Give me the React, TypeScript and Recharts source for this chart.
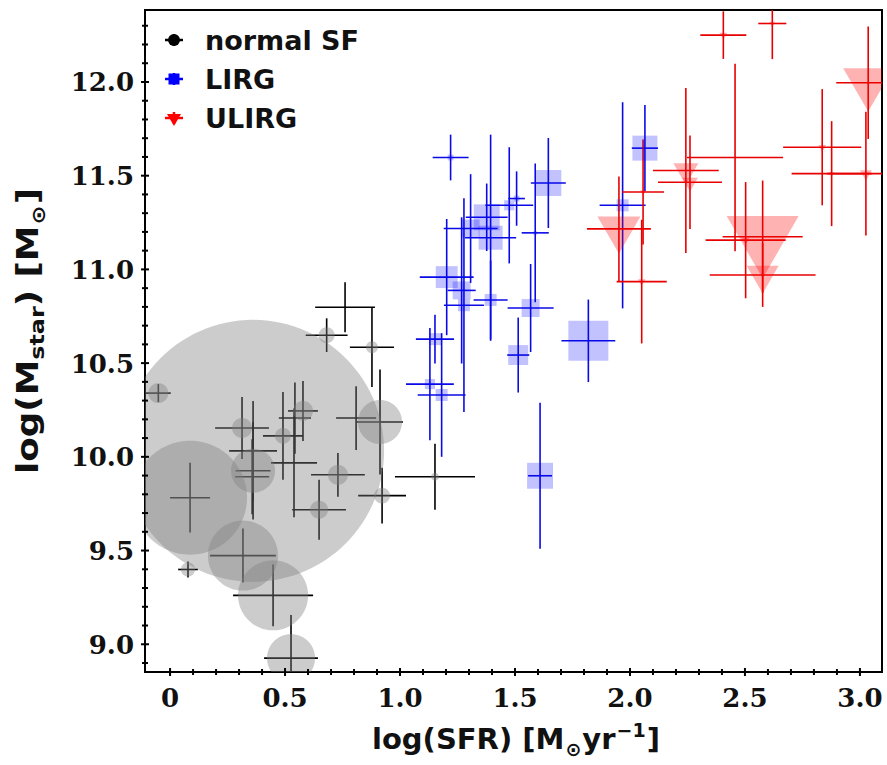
import React from 'react';
import { ScatterChart, Scatter, XAxis, YAxis, ZAxis, ErrorBar, ReferenceArea } from 'recharts';

// normal star-forming galaxies: log SFR, log Mstar, errors, and gas marker size
const sfSFR = [-0.051, 0.681, 0.761, 0.878, 0.913, 0.809, 0.578, 0.543, 0.491, 0.313, 0.361, 0.361, 0.357, 0.087, 0.078, 0.317, 0.448, 0.526, 0.648, 0.73, 0.922, 1.152, 0.539];
const sfMass = [10.34, 10.649, 10.798, 10.585, 10.186, 10.207, 10.245, 10.207, 10.112, 10.154, 10.032, 9.926, 9.894, 9.782, 9.399, 9.473, 9.261, 8.926, 9.718, 9.904, 9.793, 9.894, 9.968];
const sfSFRErr = [0.054, 0.091, 0.13, 0.096, 0.1, 0.087, 0.065, 0.07, 0.087, 0.117, 0.104, 0.076, 0.074, 0.087, 0.043, 0.143, 0.174, 0.117, 0.117, 0.117, 0.104, 0.174, 0.1];
const sfMassErr = [0.048, 0.09, 0.133, 0.213, 0.28, 0.17, 0.16, 0.19, 0.234, 0.165, 0.266, 0.26, 0.2, 0.186, 0.043, 0.144, 0.165, 0.23, 0.16, 0.117, 0.149, 0.176, 0.29];
const sfGas = [0.58, 0.37, 0, 0.21, 2.82, 0, 0.58, 0, 0.37, 0.58, 100, 2.82, 0, 18.9, 0.29, 7.14, 7.14, 3.36, 0.47, 0.58, 0.37, 0.09, 0];

// LIRGs
const lirgSFR = [1.22, 1.645, 1.377, 1.394, 1.307, 1.475, 1.507, 1.588, 1.203, 1.268, 1.278, 1.394, 1.568, 1.819, 1.514, 1.152, 1.13, 1.181, 1.609, 2.065, 1.968];
const lirgMass = [11.597, 11.461, 11.278, 11.169, 11.218, 11.342, 11.378, 11.195, 10.959, 10.888, 10.809, 10.837, 10.794, 10.619, 10.543, 10.628, 10.388, 10.33, 9.899, 11.647, 11.342];
const lirgSFRErr = [0.078, 0.076, 0.091, 0.111, 0.117, 0.104, 0.036, 0.059, 0.117, 0.061, 0.087, 0.074, 0.1, 0.117, 0.048, 0.083, 0.104, 0.104, 0.052, 0.057, 0.1];
const lirgMassErr = [0.122, 0.24, 0.18, 0.55, 0.29, 0.31, 0.145, 0.37, 0.31, 0.39, 0.57, 0.21, 0.235, 0.22, 0.2, 0.13, 0.3, 0.33, 0.39, 0.23, 0.55];
const lirgGas = [0.05, 0.98, 0.98, 0.84, 0.47, 0.15, 0.05, 0.02, 0.7, 0.47, 0.21, 0.21, 0.47, 2.33, 0.58, 0.21, 0.15, 0.21, 0.98, 0.91, 0.21];

// ULIRGs
const ulirgSFR = [2.406, 2.619, 3.036, 2.836, 2.877, 3.026, 2.243, 2.261, 2.457, 2.503, 2.577, 2.577, 1.952, 2.057, 2.051];
const ulirgMass = [12.25, 12.312, 11.996, 11.652, 11.511, 11.511, 11.528, 11.465, 11.597, 11.156, 11.174, 10.97, 11.216, 11.413, 10.935];
const ulirgSFRErr = [0.1, 0.061, 0.139, 0.17, 0.174, 0.17, 0.143, 0.139, 0.209, 0.174, 0.174, 0.23, 0.139, 0.091, 0.109];
const ulirgMassErr = [0.127, 0.19, 0.3, 0.31, 0.28, 0.33, 0.44, 0.25, 0.5, 0.31, 0.3, 0.17, 0.28, 0.28, 0.33];
const ulirgGas = [0.09, 0.05, 3.64, 0.09, 0.05, 0.21, 0.91, 0.37, 0, 0.1, 7.55, 1.49, 2.69, 0.05, 0.09];

const xMajorTicks = [0, 0.5, 1, 1.5, 2, 2.5, 3];
const xTickLabels = ['0', '0.5', '1.0', '1.5', '2.0', '2.5', '3.0'];
const yMajorTicks = [9, 9.5, 10, 10.5, 11, 11.5, 12];
const yTickLabels = ['9.0', '9.5', '10.0', '10.5', '11.0', '11.5', '12.0'];

const W = 887;
const H = 765;
const PLOT_LEFT = 145;
const PLOT_TOP = 10;
const PLOT_RIGHT = 882;
const PLOT_BOTTOM = 672;
const X_DOMAIN: [number, number] = [-0.109, 3.096];
const Y_DOMAIN: [number, number] = [8.852, 12.384];

// minor ticks every 0.1
const tenths = (from: number, to: number) => {
  const out: number[] = [];
  for (let i = Math.round(from * 10); i <= Math.round(to * 10); i++) out.push(i / 10);
  return out;
};
const xTicks = tenths(0, 3.0);
const yTicks = tenths(8.9, 12.3);

// error bars are cut at the frame, like the original plot does
const cutErr = (v: number, e: number, [lo, hi]: [number, number]) => [
  Math.max(0, Math.min(e, v - lo)),
  Math.max(0, Math.min(e, hi - v)),
];

const rows = (xs: number[], ys: number[], exs: number[], eys: number[], zs: number[]) =>
  xs.map((x, i) => ({
    x,
    y: ys[i],
    ex: cutErr(x, exs[i], X_DOMAIN),
    ey: cutErr(ys[i], eys[i], Y_DOMAIN),
    z: zs[i],
  }));

const sfRows = rows(sfSFR, sfMass, sfSFRErr, sfMassErr, sfGas);
const lirgRows = rows(lirgSFR, lirgMass, lirgSFRErr, lirgMassErr, lirgGas);
const ulirgRows = rows(ulirgSFR, ulirgMass, ulirgSFRErr, ulirgMassErr, ulirgGas);

const tickFont = { fontFamily: '"DejaVu Serif", "Liberation Serif", serif', fontWeight: 700, fontSize: 26, fill: '#111' };
const titleFont = { fontFamily: '"DejaVu Sans", sans-serif', fontWeight: 700, fill: '#111' };

const labelFor = (v: number, majors: number[], labels: string[]) => {
  const i = majors.findIndex((m) => Math.abs(m - v) < 1e-6);
  return i >= 0 ? labels[i] : null;
};

const XTick = (props: any) => {
  const { x, payload } = props;
  const label = labelFor(payload.value, xMajorTicks, xTickLabels);
  const len = label ? 4 : 3;
  return (
    <g>
      <line x1={x} x2={x} y1={PLOT_BOTTOM - len} y2={PLOT_BOTTOM + len} stroke="#000" strokeWidth={2} />
      {label && (
        <text x={x} y={707} textAnchor="middle" style={tickFont}>
          {label}
        </text>
      )}
    </g>
  );
};

const YTick = (props: any) => {
  const { y, payload } = props;
  const label = labelFor(payload.value, yMajorTicks, yTickLabels);
  const len = label ? 4 : 3;
  return (
    <g>
      <line x1={PLOT_LEFT - len} x2={PLOT_LEFT + len} y1={y} y2={y} stroke="#000" strokeWidth={2} />
      {label && (
        <text x={134} y={y + 9.5} textAnchor="end" style={tickFont}>
          {label}
        </text>
      )}
    </g>
  );
};

// polygon clipping against the plot frame (Sutherland-Hodgman)
type Pt = [number, number];
const cross = (a: Pt, b: Pt, k: number, v: number): Pt => {
  const t = (v - a[k]) / (b[k] - a[k]);
  return [a[0] + t * (b[0] - a[0]), a[1] + t * (b[1] - a[1])];
};
const clipToPlot = (pts: Pt[]): Pt[] => {
  const planes: [number, number, number][] = [
    [0, PLOT_LEFT, 1],
    [0, PLOT_RIGHT, -1],
    [1, PLOT_TOP, 1],
    [1, PLOT_BOTTOM, -1],
  ];
  let out = pts;
  for (const [k, b, s] of planes) {
    const input = out;
    out = [];
    for (let i = 0; i < input.length; i++) {
      const cur = input[i];
      const prev = input[(i + input.length - 1) % input.length];
      const inC = s * (cur[k] - b) >= 0;
      const inP = s * (prev[k] - b) >= 0;
      if (inC) {
        if (!inP) out.push(cross(prev, cur, k, b));
        out.push(cur);
      } else if (inP) {
        out.push(cross(prev, cur, k, b));
      }
    }
    if (!out.length) break;
  }
  return out;
};
const toPath = (pts: Pt[]) =>
  pts.length ? 'M' + pts.map((p) => `${p[0].toFixed(2)},${p[1].toFixed(2)}`).join('L') + 'Z' : '';

const radiusOf = (p: any) => Math.sqrt(Math.max(p.size ?? 0, 0) / Math.PI);

const GasCircle = (p: any) => {
  const r = radiusOf(p);
  if (!r) return <g />;
  const pts: Pt[] = Array.from({ length: 120 }, (_, i) => {
    const a = (i / 120) * Math.PI * 2;
    return [p.cx + r * Math.cos(a), p.cy + r * Math.sin(a)];
  });
  return <path d={toPath(clipToPlot(pts))} fill="#808080" fillOpacity={0.4} />;
};

const GasSquare = (p: any) => {
  const r = radiusOf(p);
  if (!r) return <g />;
  const pts: Pt[] = [
    [p.cx - r, p.cy - r],
    [p.cx + r, p.cy - r],
    [p.cx + r, p.cy + r],
    [p.cx - r, p.cy + r],
  ];
  return <path d={toPath(clipToPlot(pts))} fill="#0000ff" fillOpacity={0.24} />;
};

const GasTriangle = (p: any) => {
  const r = radiusOf(p);
  if (!r) return <g />;
  const h = r * Math.sqrt(3);
  const pts: Pt[] = [
    [p.cx - r, p.cy - h / 3],
    [p.cx + r, p.cy - h / 3],
    [p.cx, p.cy + (2 * h) / 3],
  ];
  return <path d={toPath(clipToPlot(pts))} fill="#ff0000" fillOpacity={0.3} />;
};

const legendItems = [
  { label: 'normal SF', color: '#000000', kind: 'circle' },
  { label: 'LIRG', color: '#0000ff', kind: 'square' },
  { label: 'ULIRG', color: '#ff0000', kind: 'triangle' },
];

const LegendMarker = ({ kind, color, x, y }: any) => (
  <g>
    <line x1={x - 9} x2={x + 9} y1={y} y2={y} stroke={color} strokeWidth={2.5} />
    <line x1={x} x2={x} y1={y - 6} y2={y + 6} stroke={color} strokeWidth={2.5} />
    {kind === 'circle' && <circle cx={x} cy={y} r={6} fill={color} />}
    {kind === 'square' && <rect x={x - 5.5} y={y - 5.5} width={11} height={11} fill={color} />}
    {kind === 'triangle' && <path d={`M${x - 7},${y - 4}L${x + 7},${y - 4}L${x},${y + 8}Z`} fill={color} />}
  </g>
);

const bars = (color: string) => [
  <ErrorBar key="ex" dataKey="ex" direction="x" width={0} stroke={color} strokeWidth={1.6} />,
  <ErrorBar key="ey" dataKey="ey" direction="y" width={0} stroke={color} strokeWidth={1.6} />,
];

export default function App() {
  return (
    <div style={{ position: 'absolute', left: 0, top: 0, width: W, height: H, background: '#fff' }}>
      <ScatterChart width={W} height={H} margin={{ top: 10, right: 5, bottom: 0, left: 0 }}>
        <XAxis
          type="number"
          dataKey="x"
          domain={X_DOMAIN}
          allowDataOverflow
          ticks={xTicks}
          interval={0}
          tick={<XTick />}
          tickLine={false}
          axisLine={false}
          height={93}
        />
        <YAxis
          type="number"
          dataKey="y"
          domain={Y_DOMAIN}
          allowDataOverflow
          ticks={yTicks}
          interval={0}
          tick={<YTick />}
          tickLine={false}
          axisLine={false}
          width={145}
        />
        <ZAxis type="number" dataKey="z" domain={[0, 100]} range={[0, Math.PI * 131 * 131]} />
        <ReferenceArea
          x1={X_DOMAIN[0]}
          x2={X_DOMAIN[1]}
          y1={Y_DOMAIN[0]}
          y2={Y_DOMAIN[1]}
          fill="none"
          stroke="#000"
          strokeWidth={2}
          ifOverflow="visible"
        />
        <Scatter name="normal SF" data={sfRows} shape={GasCircle} isAnimationActive={false}>
          {bars('#000000')}
        </Scatter>
        <Scatter name="LIRG" data={lirgRows} shape={GasSquare} isAnimationActive={false}>
          {bars('#0a0ae6')}
        </Scatter>
        <Scatter name="ULIRG" data={ulirgRows} shape={GasTriangle} isAnimationActive={false}>
          {bars('#e80000')}
        </Scatter>
      </ScatterChart>
      <svg width={W} height={H} style={{ position: 'absolute', left: 0, top: 0, pointerEvents: 'none' }}>
        {legendItems.map((item, i) => (
          <g key={item.label}>
            <LegendMarker kind={item.kind} color={item.color} x={174} y={40 + i * 39} />
            <text
              x={205}
              y={50 + i * 39}
              style={{ fontFamily: '"DejaVu Sans", sans-serif', fontWeight: 700, fontSize: 27, fill: '#111' }}
            >
              {item.label}
            </text>
          </g>
        ))}
        <text x={372} y={749} style={{ ...titleFont, fontSize: 29 }}>
          log(SFR) [M
          <tspan fontSize={19} dx={1} dy={7}>⊙</tspan>
          <tspan dx={1} dy={-7}>yr</tspan>
          <tspan fontSize={19} dx={1} dy={-12}>−1</tspan>
          <tspan dx={1} dy={12}>]</tspan>
        </text>
        <text
          transform="rotate(-90)"
          x={-474}
          y={38}
          textLength={286}
          lengthAdjust="spacingAndGlyphs"
          style={{ ...titleFont, fontSize: 30 }}
        >
          log(M
          <tspan fontSize={20} dy={6}>star</tspan>
          <tspan dy={-6}>) [M</tspan>
          <tspan fontSize={19} dx={1} dy={7}>⊙</tspan>
          <tspan dx={1} dy={-7}>]</tspan>
        </text>
      </svg>
    </div>
  );
}
